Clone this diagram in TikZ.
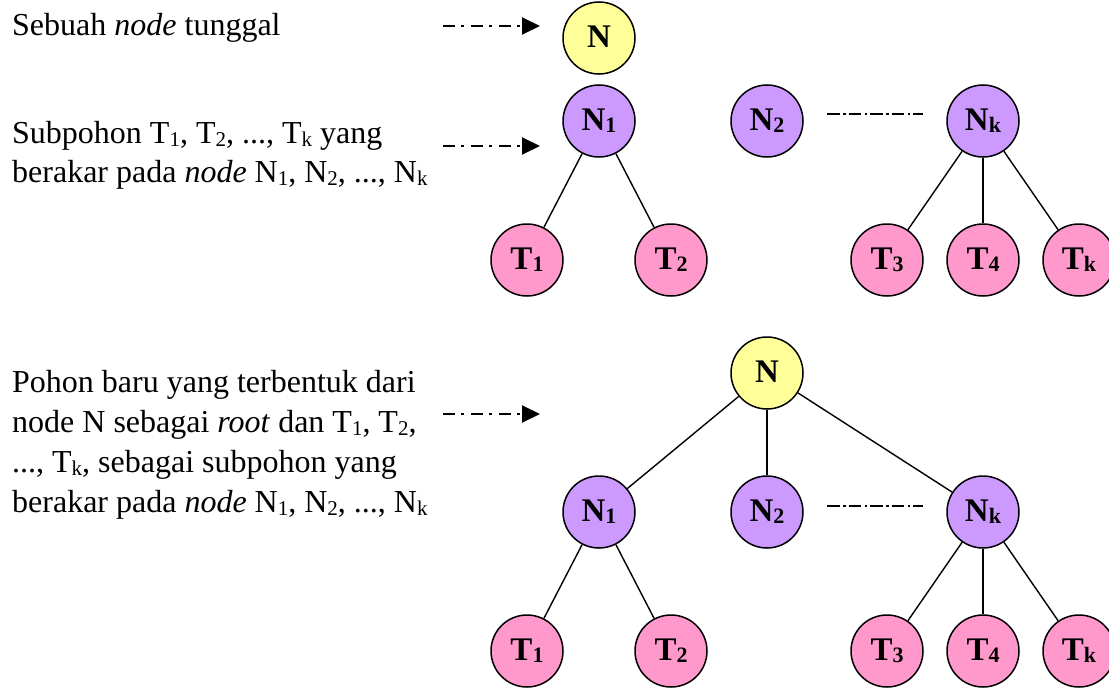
\documentclass[tikz,border=0pt]{standalone}
\usepackage{fontspec}
\setmainfont{Liberation Serif}
\usetikzlibrary{arrows.meta}
\definecolor{nyellow}{HTML}{FFFF99}
\definecolor{npurple}{HTML}{CC99FF}
\definecolor{npink}{HTML}{FF99CC}
\newcommand{\mysub}[1]{{\fontsize{21}{21}\selectfont\raisebox{-3pt}{#1}}}
\newcommand{\lab}[2]{\fontsize{33}{33}\selectfont\textbf{#1}{\fontsize{22}{22}\selectfont\raisebox{-2pt}{\textbf{#2}}}}
\begin{document}
\begin{tikzpicture}[x=1pt,y=-1pt,
  bub/.style={circle,draw=black,line width=1.5pt,minimum size=72pt,inner sep=0pt},
  rootn/.style={bub,fill=nyellow},
  midn/.style={bub,fill=npurple},
  leafn/.style={bub,fill=npink},
  edge/.style={line width=1.4pt},
  txt/.style={anchor=base west,inner sep=0pt,font=\fontsize{32}{40}\selectfont},
  ptr/.style={line width=2pt,dash pattern=on 12pt off 6pt on 3pt off 7pt,-{Triangle[length=18pt,width=17pt]}},
  gap/.style={line width=1.2pt,dash pattern=on 12.5pt off 3.5pt on 2.5pt off 3pt}]
\useasboundingbox (0,0) rectangle (1109,693);

% texts
\node[txt] (s1) at (12,36) {Sebuah \textit{node} tunggal};
\node[txt] (s2a) at (12,143) {Subpohon T\mysub{1}, T\mysub{2}, ..., T\mysub{k} yang};
\node[txt] (s2b) at (12,182) {berakar pada \textit{node} N\mysub{1}, N\mysub{2}, ..., N\mysub{k}};
\node[txt] (s3a) at (12,392) {Pohon baru yang terbentuk dari};
\node[txt] (s3b) at (12,432) {node N sebagai \textit{root} dan T\mysub{1}, T\mysub{2},};
\node[txt] (s3c) at (12,472) {..., T\mysub{k}, sebagai subpohon yang};
\node[txt] (s3d) at (12,512) {berakar pada \textit{node} N\mysub{1}, N\mysub{2}, ..., N\mysub{k}};

% arrows
\coordinate (a1s) at (443,26);  \coordinate (a1e) at (540,26);
\coordinate (a2s) at (443,146); \coordinate (a2e) at (540,146);
\coordinate (a3s) at (443,414); \coordinate (a3e) at (540,414);
\draw[ptr] (a1s) -- (a1e);
\draw[ptr] (a2s) -- (a2e);
\draw[ptr] (a3s) -- (a3e);

% top: single node and subtrees
\node[rootn] (tN) at (599,38) {\lab{N}{}};
\node[midn] (tN1) at (599,121) {\lab{N}{1}};
\node[midn] (tN2) at (767,121) {\lab{N}{2}};
\node[midn] (tNk) at (983,121) {\lab{N}{k}};
\node[leafn] (tT1) at (527,260) {\lab{T}{1}};
\node[leafn] (tT2) at (671,260) {\lab{T}{2}};
\node[leafn] (tT3) at (887,260) {\lab{T}{3}};
\node[leafn] (tT4) at (983,260) {\lab{T}{4}};
\node[leafn] (tTk) at (1079,260) {\lab{T}{k}};
\draw[edge] (tN1) -- (tT1);
\draw[edge] (tN1) -- (tT2);
\draw[edge] (tNk) -- (tT3);
\draw[edge] (tNk) -- (tT4);
\draw[edge] (tNk) -- (tTk);
\coordinate (tg1) at (827,114); \coordinate (tg2) at (923,114);
\draw[gap] (tg1) -- (tg2);

% bottom: new tree
\node[rootn] (bN) at (767,373) {\lab{N}{}};
\node[midn] (bN1) at (599,512) {\lab{N}{1}};
\node[midn] (bN2) at (767,512) {\lab{N}{2}};
\node[midn] (bNk) at (983,512) {\lab{N}{k}};
\node[leafn] (bT1) at (527,651) {\lab{T}{1}};
\node[leafn] (bT2) at (671,651) {\lab{T}{2}};
\node[leafn] (bT3) at (887,651) {\lab{T}{3}};
\node[leafn] (bT4) at (983,651) {\lab{T}{4}};
\node[leafn] (bTk) at (1079,651) {\lab{T}{k}};
\draw[edge] (bN) -- (bN1);
\draw[edge] (bN) -- (bN2);
\draw[edge] (bN) -- (bNk);
\draw[edge] (bN1) -- (bT1);
\draw[edge] (bN1) -- (bT2);
\draw[edge] (bNk) -- (bT3);
\draw[edge] (bNk) -- (bT4);
\draw[edge] (bNk) -- (bTk);
\coordinate (bg1) at (827,506); \coordinate (bg2) at (923,506);
\draw[gap] (bg1) -- (bg2);
\end{tikzpicture}
\end{document}
